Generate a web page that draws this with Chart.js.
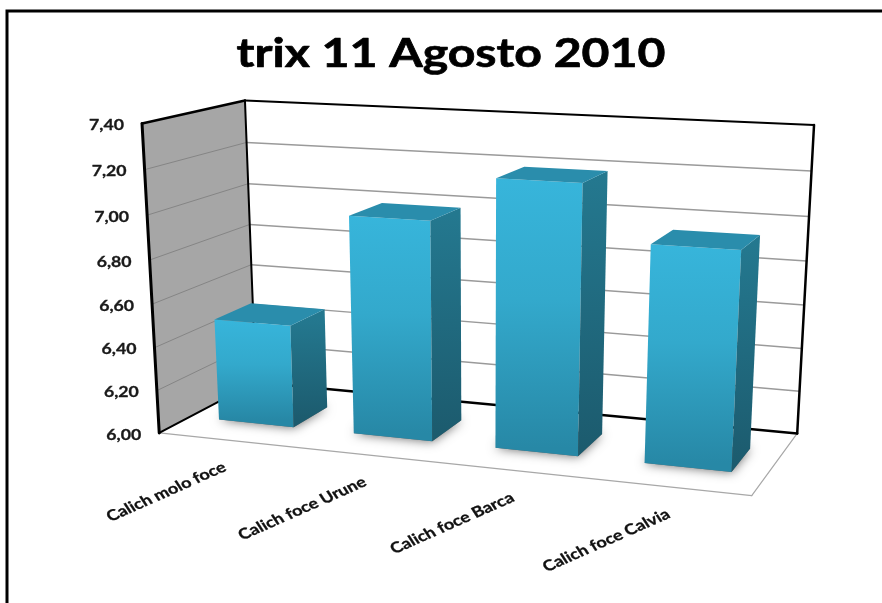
<!DOCTYPE html>
<html>
<head>
<meta charset="utf-8">
<style>html,body{margin:0;padding:0;background:#fff}canvas{display:block}</style>
<script src="https://cdn.jsdelivr.net/npm/chart.js@4"></script>
</head>
<body>
<canvas id="c" width="882" height="603"></canvas>
<script>
const categories = ['Calich molo foce', 'Calich foce Urune', 'Calich foce Barca', 'Calich foce Calvia'];
const pHValues = [6.48, 7.0, 7.2, 6.96];
const valueTicks = [6, 6.2, 6.4, 6.6, 6.8, 7, 7.2, 7.4];
const chartTitle = 'trix 11 Agosto 2010';

// Anchors of the perspective box: [u, v, w] -> screen position.
// u runs along the categories, v up the values, w from front to back.
const boxAnchors = [
  [0, 0, 0, 159, 432], [1, 0, 0, 752, 496], [0, 0, 1, 256, 383], [1, 0, 1, 797, 433],
  [0, 1, 0, 142, 124], [0, 1, 1, 245, 100], [1, 1, 1, 814, 125]
];
const barDepth = { front: 0.3, back: 0.68 };
const textStretch = 1.22;

// Least-squares fit of the 3x4 camera matrix (last entry fixed to 1).
function fitCamera(points) {
  const rows = [], rhs = [];
  points.forEach(([u, v, w, x, y]) => {
    rows.push([u, v, w, 1, 0, 0, 0, 0, -x * u, -x * v, -x * w]); rhs.push(x);
    rows.push([0, 0, 0, 0, u, v, w, 1, -y * u, -y * v, -y * w]); rhs.push(y);
  });
  const n = 11;
  const M = Array.from({ length: n }, (_, i) => {
    const r = new Array(n + 1).fill(0);
    rows.forEach((row, k) => {
      for (let j = 0; j < n; j++) r[j] += row[i] * row[j];
      r[n] += row[i] * rhs[k];
    });
    return r;
  });
  for (let i = 0; i < n; i++) {
    let p = i;
    for (let k = i + 1; k < n; k++) if (Math.abs(M[k][i]) > Math.abs(M[p][i])) p = k;
    [M[i], M[p]] = [M[p], M[i]];
    for (let k = 0; k < n; k++) {
      if (k === i) continue;
      const f = M[k][i] / M[i][i];
      for (let j = i; j <= n; j++) M[k][j] -= f * M[i][j];
    }
  }
  return M.map((r, i) => r[n] / r[i]);
}
const cam = fitCamera(boxAnchors);
function project(u, v, w) {
  const d = cam[8] * u + cam[9] * v + cam[10] * w + 1;
  return [(cam[0] * u + cam[1] * v + cam[2] * w + cam[3]) / d,
          (cam[4] * u + cam[5] * v + cam[6] * w + cam[7]) / d];
}
function path(ctx, pts) {
  ctx.beginPath();
  pts.forEach((p, i) => i ? ctx.lineTo(p[0], p[1]) : ctx.moveTo(p[0], p[1]));
  ctx.closePath();
}
function stroke3d(ctx, a, b, color, width) {
  const p = project(...a), q = project(...b);
  ctx.strokeStyle = color; ctx.lineWidth = width; ctx.lineCap = 'round';
  ctx.beginPath(); ctx.moveTo(p[0], p[1]); ctx.lineTo(q[0], q[1]); ctx.stroke();
}
// Horizontally widened, slightly emboldened text anchored at (x, y).
function wideText(ctx, text, x, y, angleDeg, weight) {
  ctx.save();
  ctx.translate(x, y);
  ctx.scale(textStretch, 1);
  if (angleDeg) ctx.rotate(angleDeg * Math.PI / 180);
  ctx.fillText(text, 0, 0);
  ctx.strokeStyle = ctx.fillStyle;
  ctx.lineWidth = weight;
  ctx.lineJoin = 'round';
  ctx.strokeText(text, 0, 0);
  ctx.restore();
}

const perspectiveBars = {
  id: 'perspectiveBars',
  beforeDatasetDraw() { return false; },
  beforeDatasetsDraw(chart) {
    const ctx = chart.ctx, { x: xs, y: ys } = chart.scales;
    const vOf = px => (ys.bottom - px) / (ys.bottom - ys.top);
    ctx.save();
    // sheet frame
    ctx.strokeStyle = '#000'; ctx.lineWidth = 3;
    ctx.beginPath(); ctx.moveTo(7, 603); ctx.lineTo(7, 11); ctx.lineTo(882, 11); ctx.stroke();

    // heading
    ctx.fillStyle = '#000';
    ctx.font = 'bold 39.5px Lato';
    ctx.textAlign = 'center'; ctx.textBaseline = 'alphabetic';
    wideText(ctx, chartTitle, 451, 67, 0, 0.7);

    // walls and floor
    ctx.fillStyle = '#a6a6a6';
    path(ctx, [project(0, 0, 0), project(0, 1, 0), project(0, 1, 1), project(0, 0, 1)]); ctx.fill();
    ys.ticks.forEach(t => {
      const v = vOf(ys.getPixelForValue(t.value));
      if (v < 0.001 || v > 0.999) return;
      stroke3d(ctx, [0, v, 0], [0, v, 1], '#858585', 1);
      stroke3d(ctx, [0, v, 1], [1, v, 1], '#9a9a9a', 1.5);
    });
    stroke3d(ctx, [0, 0, 0], [1, 0, 0], '#a8a8a8', 1.2);
    stroke3d(ctx, [1, 0, 0], [1, 0, 1], '#a8a8a8', 1.2);
    stroke3d(ctx, [0, 0, 0], [0, 0, 1], '#000', 2);
    stroke3d(ctx, [0, 0, 1], [1, 0, 1], '#000', 2.5);
    stroke3d(ctx, [0, 0, 1], [0, 1, 1], '#000', 2);
    stroke3d(ctx, [0, 1, 1], [1, 1, 1], '#000', 2);
    stroke3d(ctx, [1, 0, 1], [1, 1, 1], '#000', 2.5);
    stroke3d(ctx, [0, 1, 0], [0, 1, 1], '#000', 2.5);
    stroke3d(ctx, [0, 0, 0], [0, 1, 0], '#000', 3);

    // value labels beside the front wall edge
    ctx.fillStyle = '#1a1a1a';
    ctx.font = 'bold 14.5px Lato';
    ctx.textAlign = 'right'; ctx.textBaseline = 'middle';
    ys.ticks.forEach(t => {
      const v = vOf(ys.getPixelForValue(t.value));
      const p = project(0, v, 0);
      wideText(ctx, t.value.toFixed(2).replace('.', ','), p[0] - 18, p[1] + 2, 0, 0.3);
    });

    // bars
    const { front, back } = barDepth;
    chart.getDatasetMeta(0).data.forEach(el => {
      const u0 = (el.x - el.width / 2 - xs.left) / xs.width;
      const u1 = (el.x + el.width / 2 - xs.left) / xs.width;
      const v = vOf(el.y);
      const P = (u, h, w) => project(u, h, w);

      ctx.save();
      ctx.shadowColor = 'rgba(0,0,0,0.6)'; ctx.shadowBlur = 11;
      ctx.fillStyle = '#666';
      path(ctx, [P(u0, 0, front), P(u1, 0, front), P(u1, 0, back), P(u0, 0, back)]); ctx.fill();
      ctx.restore();

      const ft = P(u0, v, front), fb = P(u0, 0, front);
      let g = ctx.createLinearGradient(0, ft[1], 0, fb[1]);
      g.addColorStop(0, '#37b5db'); g.addColorStop(0.45, '#33a9cc'); g.addColorStop(1, '#2788a6');
      ctx.fillStyle = g;
      path(ctx, [P(u0, v, front), P(u1, v, front), P(u1, 0, front), P(u0, 0, front)]); ctx.fill();

      g = ctx.createLinearGradient(0, ft[1], 0, fb[1]);
      g.addColorStop(0, '#24788f'); g.addColorStop(1, '#1c5b6e');
      ctx.fillStyle = g;
      path(ctx, [P(u1, v, front), P(u1, v, back), P(u1, 0, back), P(u1, 0, front)]); ctx.fill();

      ctx.fillStyle = '#2a8dac';
      path(ctx, [P(u0, v, front), P(u1, v, front), P(u1, v, back), P(u0, v, back)]); ctx.fill();
    });

    // category labels, slanted below the floor's front edge
    ctx.fillStyle = '#111';
    ctx.font = 'bold 14.8px Lato';
    ctx.textAlign = 'right'; ctx.textBaseline = 'middle';
    xs.ticks.forEach(t => {
      const u = (xs.getPixelForValue(t.value) - xs.left) / xs.width;
      const p = project(u, 0, 0);
      wideText(ctx, xs.getLabelForValue(t.value), p[0] - 2, p[1] + 26, -28.3, 0.3);
    });
    ctx.restore();
  }
};

new Chart(document.getElementById('c'), {
  type: 'bar',
  plugins: [perspectiveBars],
  data: {
    labels: categories,
    datasets: [{ label: 'pH', data: pHValues, backgroundColor: '#33a9cc', categoryPercentage: 0.8, barPercentage: 0.7 }]
  },
  options: {
    responsive: false,
    animation: false,
    plugins: {
      legend: { display: false },
      tooltip: { enabled: false },
      title: { display: false, text: chartTitle }
    },
    scales: {
      x: { display: false },
      y: {
        display: false, min: 6, max: 7.4,
        afterBuildTicks: s => { s.ticks = valueTicks.map(value => ({ value })); }
      }
    }
  }
});
</script>
</body>
</html>
